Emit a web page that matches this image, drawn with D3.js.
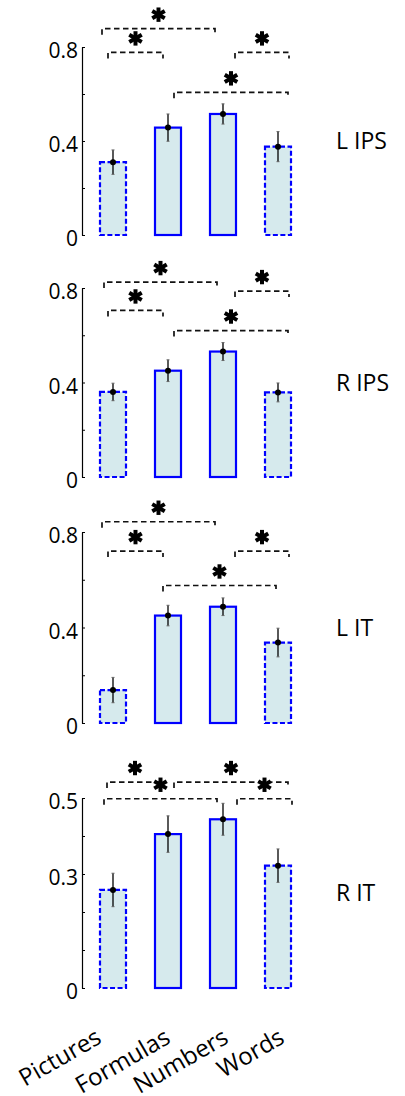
<!DOCTYPE html>
<html>
<head>
<meta charset="utf-8">
<script src="https://cdn.jsdelivr.net/npm/d3@7"></script>
<style>
  body { margin: 0; background: #fff; }
  text { font-family: "Open Sans", sans-serif; fill: #000; }
</style>
</head>
<body>
<div id="chart"></div>
<script>
// data
const categories = ["Pictures", "Formulas", "Numbers", "Words"];
const regions = ["L IPS", "R IPS", "L IT", "R IT"];

const meansLIPS = [0.31, 0.457, 0.515, 0.376];
const errsLIPS  = [0.052, 0.058, 0.043, 0.064];
const meansRIPS = [0.36, 0.45, 0.531, 0.358];
const errsRIPS  = [0.037, 0.046, 0.038, 0.04];
const meansLIT  = [0.138, 0.45, 0.487, 0.337];
const errsLIT   = [0.053, 0.043, 0.037, 0.06];
const meansRIT  = [0.258, 0.405, 0.444, 0.322];
const errsRIT   = [0.044, 0.048, 0.042, 0.044];

const tickLabelsA = [0, 0.4, 0.8];
const minorTicksA = [0.2, 0.6];
const tickLabelsB = [0, 0.3, 0.5];
const minorTicksB = [0.1, 0.2, 0.4];

// significance brackets: [from, to, level]
const sigLIPS = [["Pictures", "Numbers", 0.878], ["Pictures", "Formulas", 0.777], ["Numbers", "Words", 0.777], ["Formulas", "Words", 0.607]];
const sigRIPS = [["Pictures", "Numbers", 0.825], ["Numbers", "Words", 0.787], ["Pictures", "Formulas", 0.705], ["Formulas", "Words", 0.62]];
const sigLIT  = [["Pictures", "Numbers", 0.843], ["Pictures", "Formulas", 0.72], ["Numbers", "Words", 0.72], ["Formulas", "Words", 0.576]];
const sigRIT  = [["Pictures", "Formulas", 0.542], ["Formulas", "Words", 0.542], ["Pictures", "Numbers", 0.498], ["Numbers", "Words", 0.498]];

const dashedCats = ["Pictures", "Words"];

// layout
const width = 405, height = 1096;
const axisX = 82;
const barW = 26;
const panels = [
  { name: regions[0], means: meansLIPS, errs: errsLIPS, max: 0.8, labels: tickLabelsA, minor: minorTicksA, sig: sigLIPS, top: 47, bottom: 235,
    nudge: [[-11, -8], [-5, -5], [12, 11], [6, 10]] },
  { name: regions[1], means: meansRIPS, errs: errsRIPS, max: 0.8, labels: tickLabelsA, minor: minorTicksA, sig: sigRIPS, top: 288, bottom: 477,
    nudge: [[-9, -6], [12, 11], [-5, -5], [6, 10]] },
  { name: regions[2], means: meansLIT, errs: errsLIT, max: 0.8, labels: tickLabelsA, minor: minorTicksA, sig: sigLIT, top: 532, bottom: 723,
    nudge: [[-11, -8], [-5, -5], [12, 11], [-5, -2]] },
  { name: regions[3], means: meansRIT, errs: errsRIT, max: 0.5, labels: tickLabelsB, minor: minorTicksB, sig: sigRIT, top: 798, bottom: 988,
    nudge: [[-6, -5], [6, 10], [-9, -6], [14, 14]] }
];
const labelDx = [-10, 4, 7, 8];

const svg = d3.select("#chart")
  .append("svg")
  .attr("width", width)
  .attr("height", height)
  .attr("viewBox", [0, 0, width, height]);

const x = d3.scalePoint()
  .domain(categories)
  .range([113, 278]);

// six-armed bold asterisk
function star(g, cx, cy) {
  const r = 7.2;
  for (let a of [90, 30, 150]) {
    const t = a * Math.PI / 180;
    g.append("line")
      .attr("x1", cx - r * Math.cos(t)).attr("y1", cy - r * Math.sin(t))
      .attr("x2", cx + r * Math.cos(t)).attr("y2", cy + r * Math.sin(t))
      .attr("stroke", "#000")
      .attr("stroke-width", 4);
  }
}

for (let p of panels) {
  const y = d3.scaleLinear()
    .domain([0, p.max])
    .range([p.bottom, p.top]);

  const g = svg.append("g").attr("class", "panel");

  // axis
  const ax = g.append("g")
    .attr("transform", `translate(${axisX},0)`)
    .call(d3.axisLeft(y)
      .tickValues(p.labels.concat(p.minor))
      .tickSizeInner(-3)
      .tickSizeOuter(0)
      .tickPadding(4)
      .tickFormat(d => p.labels.includes(d) ? d3.format("")(d) : ""));
  ax.select(".domain").attr("stroke", "#000").attr("stroke-width", 1.2);
  ax.selectAll(".tick line").attr("stroke", "#000").attr("stroke-width", 1);
  ax.selectAll(".tick text")
    .attr("font-family", "Open Sans")
    .attr("font-size", 21)
    .attr("fill", "#000")
    .attr("dy", "0.52em");

  // bars
  categories.forEach((c, i) => {
    g.append("rect")
      .attr("x", x(c) - barW / 2)
      .attr("y", y(p.means[i]))
      .attr("width", barW)
      .attr("height", y(0) - y(p.means[i]))
      .attr("fill", "#d6eaed")
      .attr("stroke", "#0000ff")
      .attr("stroke-width", 2.2)
      .attr("stroke-dasharray", dashedCats.includes(c) ? "5,2.5" : null);
  });

  // error bars
  categories.forEach((c, i) => {
    const lo = y(p.means[i] - p.errs[i]), hi = y(p.means[i] + p.errs[i]);
    g.append("line")
      .attr("x1", x(c)).attr("x2", x(c))
      .attr("y1", lo).attr("y2", hi)
      .attr("stroke", "#000").attr("stroke-width", 1.3);
    for (let yy of [lo, hi]) {
      g.append("line")
        .attr("x1", x(c) - 1.5).attr("x2", x(c) + 1.5)
        .attr("y1", yy).attr("y2", yy)
        .attr("stroke", "#666").attr("stroke-width", 1);
    }
    g.append("circle")
      .attr("cx", x(c))
      .attr("cy", y(p.means[i]))
      .attr("r", 3)
      .attr("fill", "#000");
  });

  // significance brackets
  p.sig.forEach((s, k) => {
    const x1 = x(s[0]) + p.nudge[k][0];
    const x2 = x(s[1]) + p.nudge[k][1];
    const yy = y(s[2]);
    g.append("path")
      .attr("d", `M${x1},${yy + 6}V${yy}H${x2}V${yy + 6}`)
      .attr("fill", "none")
      .attr("stroke", "#111")
      .attr("stroke-width", 1.7)
      .attr("stroke-dasharray", "5.5,3.5");
    star(g, (x1 + x2) / 2, yy - 14);
  });

  // region label
  g.append("text")
    .attr("x", 336)
    .attr("y", (p.top + p.bottom) / 2)
    .attr("dy", "0.36em")
    .attr("font-size", 23)
    .text(p.name);
}

// category labels
svg.append("g")
  .selectAll("text")
  .data(categories)
  .join("text")
  .attr("text-anchor", "end")
  .attr("font-size", 24)
  .attr("transform", (d, i) => `translate(${x(d) + labelDx[i]},1042) rotate(-30)`)
  .text(d => d);
</script>
</body>
</html>
